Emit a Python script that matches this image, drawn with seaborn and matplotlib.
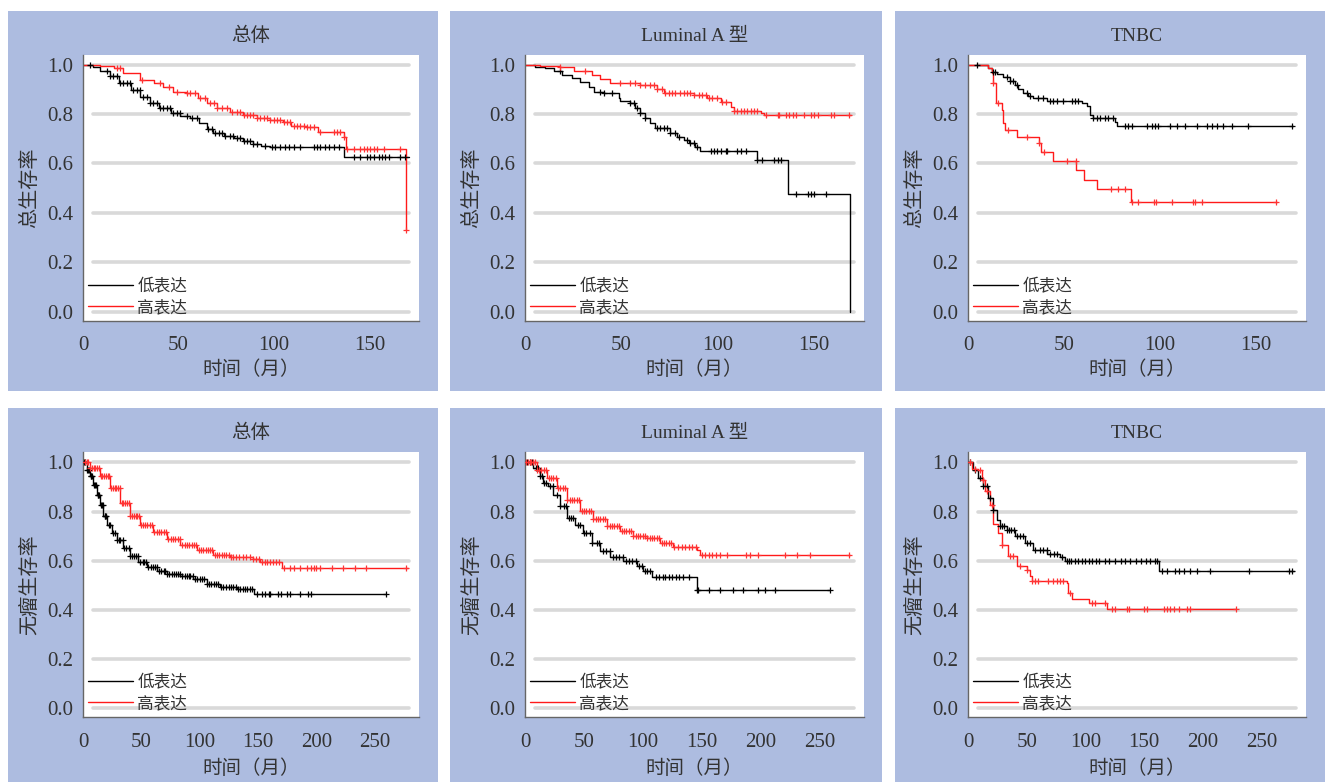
import numpy as np
import matplotlib
matplotlib.use('Agg')
import matplotlib.pyplot as plt
import seaborn as sns
from matplotlib.patches import Rectangle

# ---------------- data ----------------
# 总体 - 总生存率
os_all_low_t = [0, 5, 9, 14, 19, 25, 30, 35, 40, 46, 51, 56, 61, 65, 68, 74, 79, 84, 89, 93, 98, 136.5, 170.5]
os_all_low_s = [1.0, 0.99, 0.975, 0.955, 0.924, 0.897, 0.870, 0.843, 0.823, 0.803, 0.792, 0.783, 0.762, 0.738,
                0.722, 0.711, 0.702, 0.692, 0.679, 0.671, 0.665, 0.628, 0.628]
os_all_high_t = [0, 9, 16, 21, 30, 37, 42, 47, 54, 60, 65, 70, 77, 84, 91, 98, 105, 109, 117, 123, 126, 136.5, 138, 169.4]
os_all_high_s = [1.0, 0.995, 0.985, 0.968, 0.938, 0.924, 0.911, 0.891, 0.884, 0.864, 0.843, 0.823, 0.810, 0.796,
                 0.783, 0.776, 0.769, 0.752, 0.746, 0.729, 0.726, 0.705, 0.66, 0.331]
os_all_low_c = [3.7, 12.4, 14.2, 15.9, 17.7, 19.4, 21.2, 22.9, 24.7, 26.4, 28.1, 29.9, 31.6, 33.4, 35.1, 36.9, 38.6,
                40.4, 42.1, 43.9, 45.6, 47.4, 49.1, 50.9, 54.4, 57, 59.6, 65.7, 67.5, 69.2, 71, 72.7, 74.5, 77.1,
                78.8, 80.6, 82.3, 84.1, 85.8, 87.6, 89.3, 91.1, 95.5, 99, 100.7, 103.3, 105.9, 107.7, 110.3, 113.8,
                120.8, 122.6, 124.3, 126.9, 128.7, 131.3, 133.9, 141.8, 145.3, 148.8, 150.5, 152.3, 154.9, 156.6,
                158.4, 160.1, 166.3, 168.9]
os_all_high_c = [17.7, 19.4, 30.8, 40.4, 44.8, 49.1, 54.4, 56.1, 58.7, 61.4, 64, 66.6, 68.4, 70.1, 72.7, 75.4, 78.1,
                 80.6, 82.3, 84.1, 85.8, 87.6, 89.3, 91.1, 92.8, 94.6, 96.4, 98.1, 99.8, 101.6, 103.3, 105.1, 106.8,
                 108.6, 110.3, 112.1, 113.8, 115.6, 117.3, 119, 120.8, 124.3, 131.3, 133, 134.8, 136.5, 138.3,
                 141.8, 145.3, 147, 148.8, 150.5, 152.3, 154, 157.5, 166.3, 169.4]

# Luminal A 型 - 总生存率
os_luma_low_t = [0, 5.2, 10.4, 14.8, 19.1, 24.3, 28.6, 33, 35.6, 40.8, 48.6, 49.5, 54.7, 57.3, 59.9, 62.5, 65.1,
                 67.7, 75.5, 79, 82.5, 85.1, 88.5, 91.1, 120.7, 136.3, 168.9]
os_luma_low_s = [1.0, 0.992, 0.985, 0.976, 0.958, 0.945, 0.931, 0.911, 0.891, 0.884, 0.864, 0.854, 0.846, 0.823,
                 0.803, 0.782, 0.762, 0.742, 0.724, 0.708, 0.695, 0.681, 0.668, 0.650, 0.614, 0.476, 0.0]
os_luma_high_t = [0, 7.8, 18.2, 25.2, 34.7, 39.1, 44.3, 59.9, 68.6, 72, 87.7, 94.6, 101.6, 106.8, 108.5, 122.4,
                  124.1, 169.3]
os_luma_high_s = [1.0, 0.995, 0.992, 0.976, 0.958, 0.941, 0.924, 0.918, 0.900, 0.886, 0.877, 0.864, 0.850, 0.827,
                  0.814, 0.805, 0.795, 0.795]
os_luma_low_c = [18.2, 39.1, 40.8, 45.1, 54.7, 56.4, 58.2, 59.9, 62.5, 68.6, 70.3, 72, 73.8, 75.5, 78.1, 79.9, 84.2,
                 85.9, 87.7, 89.4, 96.4, 98.1, 99.8, 101.6, 104.2, 105, 110.2, 112, 114.6, 120.7, 123.3, 129.3,
                 131.1, 132.8, 140.6, 146.7, 148.4, 150.2, 156.3]
os_luma_high_c = [18.2, 31.3, 49.5, 54.7, 57.3, 59.9, 62.5, 65.1, 66.8, 68.6, 71.2, 72.9, 74.7, 76.4, 78.1, 80.7,
                  82.5, 84.2, 85.9, 87.7, 90.3, 92, 93.8, 95.5, 97.2, 99.8, 102.4, 104.2, 108.5, 110.2, 112, 113.7,
                  115.5, 117.2, 118.9, 120.7, 125, 131.1, 132, 135.4, 137.2, 138.9, 140.6, 145, 148.4, 150.2,
                  151.9, 158.9, 160.6, 168.4]

# TNBC - 总生存率
os_tnbc_low_t = [0, 10.6, 12.3, 14.9, 18.4, 21.9, 24.5, 26.2, 28.8, 31.4, 34, 41, 59.2, 61.8, 63.5, 65.3, 76.6,
                 77.4, 169.4]
os_tnbc_low_s = [1.0, 0.985, 0.971, 0.962, 0.949, 0.935, 0.918, 0.900, 0.886, 0.873, 0.864, 0.854, 0.843, 0.832,
                 0.796, 0.782, 0.769, 0.753, 0.753]
os_tnbc_high_t = [0, 10.6, 12.3, 13.2, 14.6, 17.5, 18.4, 19.3, 25.7, 37, 38, 44.4, 56.3, 60.4, 67, 84.9, 160.8]
os_tnbc_high_s = [1.0, 0.985, 0.965, 0.924, 0.846, 0.816, 0.762, 0.735, 0.705, 0.681, 0.645, 0.611, 0.573, 0.532,
                  0.496, 0.445, 0.445]
os_tnbc_low_c = [4.5, 13.2, 14.1, 20.1, 21.9, 23.6, 25.3, 30.6, 32.3, 36.6, 39.2, 42.7, 44.4, 46.2, 49.7, 54, 55.7,
                 57.5, 65.3, 67, 68.8, 71.4, 73.1, 75.7, 81.8, 83.5, 85.2, 93.1, 95.7, 97.4, 99.1, 105.2, 108.7,
                 113, 119.1, 124.3, 126.9, 129.5, 133, 137.3, 146, 168.6]
os_tnbc_high_c = [13.2, 15.8, 21, 30.6, 37, 39.8, 51.4, 56.1, 74.3, 78.3, 81.8, 85.2, 88.4, 97, 97.9, 106.1, 117.4,
                  118.2, 122, 160.4]

# 总体 - 无瘤生存率
dfs_all_low_t = [0, 3.1, 6, 8.9, 11.7, 14.6, 17.4, 20.3, 24.6, 28.9, 34.6, 40.3, 47.4, 54.6, 63.1, 71.7, 83.1,
                 94.6, 106, 117.4, 131.7, 146.6, 259.7]
dfs_all_low_s = [1.0, 0.970, 0.943, 0.909, 0.869, 0.828, 0.781, 0.747, 0.713, 0.686, 0.652, 0.621, 0.594, 0.575,
                 0.558, 0.548, 0.540, 0.524, 0.507, 0.494, 0.486, 0.463, 0.463]
dfs_all_high_t = [0, 6, 14.6, 23.1, 31.7, 40.3, 48.9, 60.3, 71.7, 83.1, 97.4, 111.7, 126, 146, 151.7, 170.3, 278.9]
dfs_all_high_s = [1.0, 0.977, 0.943, 0.896, 0.835, 0.781, 0.747, 0.716, 0.689, 0.666, 0.645, 0.625, 0.616, 0.608,
                  0.594, 0.571, 0.571]
dfs_all_low_c = [1, 2, 3.5, 4, 5, 6.5, 7, 8, 9.5, 10, 11, 12.5, 13, 14, 15.5, 16, 17, 18.5, 19, 20, 22, 23.5, 26,
                 27, 29, 30.5, 32, 34, 35.5, 37, 39, 40.5, 42, 44, 45.5, 47, 49, 51, 52.5, 54, 56, 58, 60, 61.5,
                 63, 65, 67, 69, 70.5, 72, 74, 76, 78, 79.5, 81, 83, 85, 87, 89, 90.5, 92, 94, 96, 98, 100, 102,
                 104, 106, 108, 110, 112, 114, 116, 118, 120, 122.5, 125, 127, 129, 131, 133, 135, 137, 139, 141,
                 143, 145, 149, 153, 156, 159, 160, 167, 170, 175, 177, 186, 193, 195, 260]
dfs_all_high_c = [1.5, 3, 4.5, 6, 7.5, 9, 10.5, 12, 13.5, 15, 16.5, 18, 19.5, 21, 22.5, 24, 25.5, 27, 28.5, 30,
                  31.5, 33, 34.5, 36, 37.5, 39, 40.5, 42, 43.5, 45, 46.5, 48, 49.5, 51, 53, 55, 57, 59, 61, 63, 65,
                  67, 69, 71, 73, 75, 77, 79, 81, 83, 85, 87, 89, 91, 93, 95, 97, 99, 101, 103, 105, 107, 109, 111,
                  113, 115, 117, 119, 121, 123, 125, 127, 129, 131, 134, 137, 140, 143, 146, 148, 151, 153, 156,
                  158, 160, 163, 165, 168, 172, 177, 181, 186, 192, 195, 198, 200, 203, 213, 223, 233, 243, 277]

# Luminal A 型 - 无瘤生存率
dfs_luma_low_t = [0, 7.1, 12.7, 15.6, 19.8, 24.1, 29.7, 35.4, 42.4, 49.5, 56.6, 63.7, 72.2, 83.5, 94.8, 100.5,
                  107.5, 145.7, 258.9]
dfs_luma_low_s = [1.0, 0.977, 0.943, 0.916, 0.903, 0.869, 0.821, 0.774, 0.747, 0.713, 0.673, 0.639, 0.616, 0.598,
                  0.578, 0.558, 0.535, 0.483, 0.483]
dfs_luma_high_t = [0, 9.9, 18.4, 26.9, 35.4, 46.7, 58, 69.3, 80.6, 92, 103.3, 114.6, 125.9, 145.7, 148.6, 275.9]
dfs_luma_high_s = [1.0, 0.968, 0.936, 0.896, 0.848, 0.801, 0.770, 0.743, 0.720, 0.700, 0.693, 0.673, 0.655, 0.645,
                   0.625, 0.625]
dfs_luma_low_c = [2, 4, 6, 9, 11, 13, 14.5, 16, 18, 21, 24, 27, 30, 33, 35, 37, 39, 41, 45, 47, 50, 52, 55, 57, 61,
                  63, 66, 69, 72, 75, 77, 80, 83, 86, 88, 91, 94, 97, 99, 102, 104, 106, 111, 114, 117, 119, 122,
                  125, 128, 131, 134, 139, 146, 147, 156, 166, 177, 185, 198, 204, 212, 259]
dfs_luma_high_c = [1, 2.5, 4, 5.5, 7, 8.5, 10, 12, 14, 16, 18, 20, 22, 24, 26, 28, 30, 32, 34, 36, 38, 40, 42, 44,
                   46, 48, 50, 52, 54, 56, 58, 60, 62, 64, 66, 68, 70, 72, 74, 76, 78, 80, 82, 84, 86, 88, 90, 92,
                   94, 96, 98, 100, 102, 104, 106, 108, 110, 112, 114, 116, 118, 120, 122, 124, 127, 130, 133, 136,
                   139, 142, 145, 150, 153, 156, 159, 162, 166, 172, 188, 191, 198, 221, 231, 242, 275]

# TNBC - 无瘤生存率
dfs_tnbc_low_t = [0, 4.6, 8.8, 13.1, 17.4, 21.6, 24.5, 27.3, 33, 40.1, 48.6, 55.7, 67.1, 78.5, 82.8, 162.4, 277.6]
dfs_tnbc_low_s = [1.0, 0.970, 0.936, 0.903, 0.855, 0.808, 0.767, 0.740, 0.724, 0.700, 0.673, 0.645, 0.628, 0.616,
                  0.598, 0.558, 0.558]
dfs_tnbc_high_t = [0, 3.1, 8.8, 11.7, 14.5, 18.8, 21.6, 25.9, 28.7, 34.4, 41.5, 50.1, 52.9, 54.3, 84.2, 85.6, 88.5,
                   102.7, 118.3, 228.7]
dfs_tnbc_high_s = [1.0, 0.973, 0.968, 0.930, 0.882, 0.828, 0.751, 0.713, 0.666, 0.618, 0.578, 0.564, 0.537, 0.517,
                   0.510, 0.470, 0.445, 0.429, 0.402, 0.402]
dfs_tnbc_low_c = [1.7, 6, 10.2, 13.1, 15.9, 18.8, 21.6, 27.3, 29, 31, 33, 35, 37, 39, 41.5, 44, 47, 50, 53, 57, 61,
                  64, 67, 70, 73, 76, 80, 84, 86, 88, 91, 94, 97, 100, 103, 106, 109, 112, 117, 120, 125, 130, 134,
                  138, 143, 147, 152, 155, 159, 161, 165, 169.5, 176.6, 179.5, 183.7, 189.4, 195.1, 206.5, 239.2,
                  273.3, 276.2]
dfs_tnbc_high_c = [1.7, 6, 10.2, 13.1, 15.9, 20.2, 28.7, 35.8, 38.7, 44.4, 50.1, 54.3, 57.2, 60, 68.5, 72.8, 75.7,
                   78.5, 81.3, 87, 105.5, 108.4, 116.9, 122.6, 125.4, 135.4, 136.8, 149.6, 152.4, 166.7, 169.5,
                   172.4, 175.2, 179.5, 186.6, 189.4, 228.7]

titles = ['总体', 'Luminal A 型', 'TNBC']
row_ylabels = ['总生存率', '无瘤生存率']
group_labels = ['低表达', '高表达']
yticks = [0.0, 0.2, 0.4, 0.6, 0.8, 1.0]
xticks_os = [0, 50, 100, 150]
xticks_dfs = [0, 50, 100, 150, 200, 250]

panels = [
    [(os_all_low_t, os_all_low_s, os_all_low_c, os_all_high_t, os_all_high_s, os_all_high_c),
     (os_luma_low_t, os_luma_low_s, os_luma_low_c, os_luma_high_t, os_luma_high_s, os_luma_high_c),
     (os_tnbc_low_t, os_tnbc_low_s, os_tnbc_low_c, os_tnbc_high_t, os_tnbc_high_s, os_tnbc_high_c)],
    [(dfs_all_low_t, dfs_all_low_s, dfs_all_low_c, dfs_all_high_t, dfs_all_high_s, dfs_all_high_c),
     (dfs_luma_low_t, dfs_luma_low_s, dfs_luma_low_c, dfs_luma_high_t, dfs_luma_high_s, dfs_luma_high_c),
     (dfs_tnbc_low_t, dfs_tnbc_low_s, dfs_tnbc_low_c, dfs_tnbc_high_t, dfs_tnbc_high_s, dfs_tnbc_high_c)],
]


def step_at(t, s, c):
    # survival value of a step function at the censoring times
    idx = np.searchsorted(np.asarray(t), np.asarray(c), side='right') - 1
    return np.asarray(s)[idx]


# ---------------- styling ----------------
sns.set_style('white')
plt.rcParams['font.family'] = ['Liberation Serif', 'Noto Sans CJK SC']
plt.rcParams['axes.unicode_minus'] = False

W, H = 1328, 783
fig = plt.figure(figsize=(W / 100, H / 100), dpi=100)

BLUE = '#adbce0'
TXT = '#333333'
AXC = '#666666'
box_cols = [(8, 438), (450, 882), (895, 1325)]
box_rows = [(11, 391), (408, 782)]
ax_cols = [(83, 419), (525, 864), (968, 1306)]
ax_rows = [(55, 321), (452, 717)]
ylims = [(-0.038, 1.039), (-0.035, 1.042)]
xlims = [(0, 176), (0, 288)]
tick_pads = [6.5, 7.5]
xlabel_pads = [4.5, 5.0]

for r in range(2):
    for c in range(3):
        bx0, bx1 = box_cols[c]
        by0, by1 = box_rows[r]
        fig.patches.append(Rectangle((bx0 / W, 1 - by1 / H), (bx1 - bx0) / W, (by1 - by0) / H,
                                     transform=fig.transFigure, facecolor=BLUE, edgecolor='none', zorder=-5))

        x0, x1 = ax_cols[c]
        y0, y1 = ax_rows[r]
        ax = fig.add_axes([x0 / W, 1 - y1 / H, (x1 - x0) / W, (y1 - y0) / H])
        ax.set_zorder(1)
        ax.set_facecolor('white')

        for yv in yticks:
            ax.axhline(yv, xmin=0.03, xmax=0.97, color='#d9d9d9', lw=2.6, zorder=0)

        lt, ls, lc, ht, hs, hc = panels[r][c]
        sns.lineplot(x=lt, y=ls, drawstyle='steps-post', color='black', lw=1.0, ax=ax,
                     label=group_labels[0], estimator=None, sort=False)
        sns.lineplot(x=ht, y=hs, drawstyle='steps-post', color='#ff1a1a', lw=1.0, ax=ax,
                     label=group_labels[1], estimator=None, sort=False)
        sns.scatterplot(x=lc, y=step_at(lt, ls, lc), marker='+', color='black', s=24, linewidth=0.9,
                        ax=ax, legend=False, zorder=3)
        sns.scatterplot(x=hc, y=step_at(ht, hs, hc), marker='+', color='#ff3333', s=24, linewidth=0.9,
                        ax=ax, legend=False, zorder=3)

        ax.set_xlim(*xlims[r])
        ax.set_ylim(*ylims[r])
        ax.set_yticks(yticks)
        ax.set_yticklabels([f'{v:.1f}' for v in yticks])
        xt = xticks_os if r == 0 else xticks_dfs
        ax.set_xticks(xt)
        ax.set_xticklabels([str(v) for v in xt])

        for side in ['top', 'right']:
            ax.spines[side].set_visible(False)
        for side in ['left', 'bottom']:
            ax.spines[side].set_color(AXC)
            ax.spines[side].set_linewidth(1.0)
        ax.tick_params(axis='both', direction='out', length=4, width=1, color=AXC,
                       labelsize=15, labelcolor=TXT, pad=3)
        ax.tick_params(axis='x', pad=tick_pads[r])

        ax.set_title(titles[c], fontsize=14, color=TXT, pad=10)
        ax.set_xlabel('时间（月）', fontsize=14, color=TXT, labelpad=xlabel_pads[r])
        ax.set_ylabel(row_ylabels[r], fontsize=14.5, color=TXT, labelpad=5)

        leg = ax.legend(loc='lower left', frameon=False, fontsize=12, handlelength=2.7,
                        handletextpad=0.25, borderaxespad=0.0, borderpad=0.3, labelspacing=0.3)
        for txt in leg.get_texts():
            txt.set_color(TXT)

fig.savefig('out.png', dpi=100, facecolor='white')
